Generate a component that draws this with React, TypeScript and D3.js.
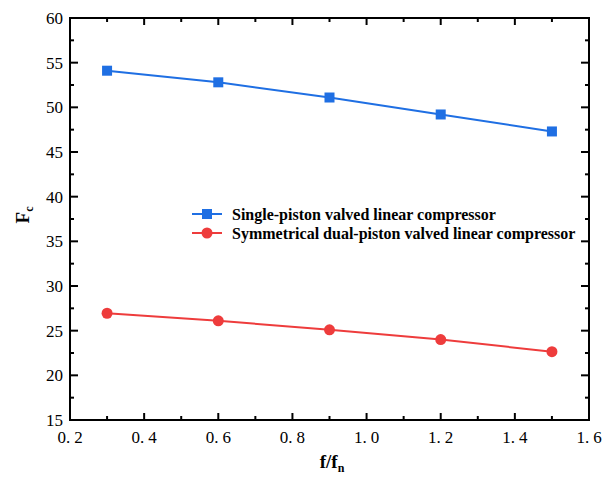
import React from "react";
import * as d3 from "d3";

const xValues = [0.3, 0.6, 0.9, 1.2, 1.5];
const singleValues = [54.1, 52.8, 51.1, 49.2, 47.3];
const dualValues = [26.95, 26.1, 25.1, 24.0, 22.65];
const xTicks = [0.2, 0.4, 0.6, 0.8, 1.0, 1.2, 1.4, 1.6];
const yTicks = [15, 20, 25, 30, 35, 40, 45, 50, 55, 60];
const seriesNames = [
  "Single-piston valved linear compressor",
  "Symmetrical dual-piston valved linear compressor",
];

const W = 603, H = 482;
const L = 70, R = 589, T = 18, B = 420;
const BLUE = "#1F6FE3";
const RED = "#EE3C3C";
const SERIF = "Liberation Serif";

export default function App() {
  const x = d3.scaleLinear().domain([0.2, 1.6]).range([L, R]);
  const y = d3.scaleLinear().domain([15, 60]).range([B, T]);
  const line = d3.line<number>().x((_, i) => x(xValues[i])).y((d) => y(d));
  const xMinor = d3.range(0, 7).map((i) => 0.3 + i * 0.2);
  const yMinor = d3.range(0, 9).map((i) => 17.5 + i * 5);

  return (
    <svg width={W} height={H} style={{ position: "absolute", left: 0, top: 0 }}>
      <rect width={W} height={H} fill="#fff" />
      {/* series */}
      <path d={line(singleValues) || ""} fill="none" stroke={BLUE} strokeWidth={2} />
      {singleValues.map((v, i) => (
        <rect key={"s" + i} x={x(xValues[i]) - 5} y={y(v) - 5} width={10} height={10} fill={BLUE} />
      ))}
      <path d={line(dualValues) || ""} fill="none" stroke={RED} strokeWidth={2} />
      {dualValues.map((v, i) => (
        <circle key={"d" + i} cx={x(xValues[i])} cy={y(v)} r={5.5} fill={RED} />
      ))}
      {/* frame */}
      <rect x={L} y={T} width={R - L} height={B - T} fill="none" stroke="#000" strokeWidth={2} />
      {/* x ticks */}
      {xTicks.map((t) => (
        <g key={"xt" + t}>
          <line x1={x(t)} x2={x(t)} y1={B} y2={B - 7} stroke="#000" strokeWidth={2} />
          <line x1={x(t)} x2={x(t)} y1={T} y2={T + 7} stroke="#000" strokeWidth={2} />
          <text x={x(t)} y={B + 23} textAnchor="middle" fontFamily={SERIF} fontSize={17}>
            {Math.floor(t + 1e-9)}.<tspan dx={4}>{Math.round((t % 1) * 10) % 10}</tspan>
          </text>
        </g>
      ))}
      {xMinor.map((t) => (
        <g key={"xm" + t}>
          <line x1={x(t)} x2={x(t)} y1={B} y2={B - 4} stroke="#000" strokeWidth={2} />
          <line x1={x(t)} x2={x(t)} y1={T} y2={T + 4} stroke="#000" strokeWidth={2} />
        </g>
      ))}
      {/* y ticks */}
      {yTicks.map((t) => (
        <g key={"yt" + t}>
          <line x1={L} x2={L + 8} y1={y(t)} y2={y(t)} stroke="#000" strokeWidth={2} />
          <line x1={R} x2={R - 8} y1={y(t)} y2={y(t)} stroke="#000" strokeWidth={2} />
          <text x={L - 7} y={y(t) + 6} textAnchor="end" fontFamily={SERIF} fontSize={17}>
            {t}
          </text>
        </g>
      ))}
      {yMinor.map((t) => (
        <g key={"ym" + t}>
          <line x1={L} x2={L + 4} y1={y(t)} y2={y(t)} stroke="#000" strokeWidth={2} />
          <line x1={R} x2={R - 4} y1={y(t)} y2={y(t)} stroke="#000" strokeWidth={2} />
        </g>
      ))}
      {/* axis titles */}
      <text x={332} y={468} textAnchor="middle" fontFamily={SERIF} fontSize={19} fontWeight="bold">
        f/f<tspan fontSize={12} dy={4}>n</tspan>
      </text>
      <text transform="translate(29,215) rotate(-90)" textAnchor="middle" fontFamily={SERIF} fontSize={19} fontWeight="bold">
        F<tspan fontSize={12} dy={4}>c</tspan>
      </text>
      {/* legend */}
      {seriesNames.map((name, i) => {
        const ly = 214 + i * 19;
        const c = i === 0 ? BLUE : RED;
        return (
          <g key={"lg" + i}>
            <line x1={192} x2={222} y1={ly} y2={ly} stroke={c} strokeWidth={2} />
            {i === 0 ? (
              <rect x={202} y={ly - 5} width={10} height={10} fill={c} />
            ) : (
              <circle cx={207} cy={ly} r={5.5} fill={c} />
            )}
            <text x={232} y={ly + 5.5} fontFamily={SERIF} fontSize={16} fontWeight="bold">
              {name}
            </text>
          </g>
        );
      })}
    </svg>
  );
}
